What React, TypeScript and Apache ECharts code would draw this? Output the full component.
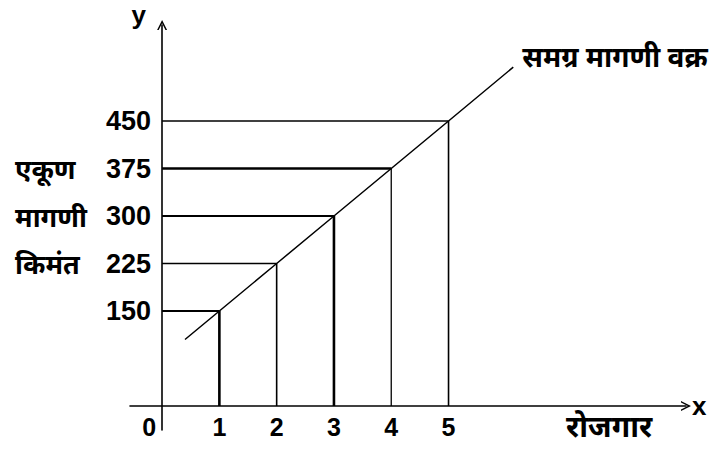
import React, { useEffect, useRef } from "react";
import * as echarts from "echarts";

// Data
const employment = [1, 2, 3, 4, 5];
const demandPrice = [150, 225, 300, 375, 450];
const curveStart = [0.4, 105];
const curveEnd = [6.13, 535];
const yTitles: Record<number, string> = { 375: "एकूण", 300: "मागणी", 225: "किमंत" };
const curveName = "समग्र मागणी वक्र";
const xTitle = "रोजगार";
const xAxisLetter = "x";
const yAxisLetter = "y";

// Axis extents (value units)
const X_MIN = -0.56;
const X_MAX = 9.145;
const Y_MIN = -37.9;
const Y_MAX = 601.6;

// Styles (not data)
const hWidths = [2, 1.3, 2, 2.4, 1.3];
const vWidths = [2.6, 1.6, 2.6, 1.3, 1.6];

const W = 716;
const H = 452;
const GRID = { left: 130, right: 30, top: 25, bottom: 22 };

const NUM_FONT = "'Liberation Sans', Arial, sans-serif";
const DEV_FONT = "'Noto Sans', 'Noto Sans Devanagari', 'Lohit Devanagari', sans-serif";
const ARROW = "path://M0,10 L5,0 L10,10 L8.4,10 L5,3.2 L1.6,10 Z";

export default function App() {
  const ref = useRef<HTMLDivElement>(null);
  useEffect(() => {
    if (!ref.current) return;
    const chart = echarts.init(ref.current, undefined, { renderer: "svg" });

    const gridW = W - GRID.left - GRID.right;
    const gridH = H - GRID.top - GRID.bottom;
    // place axis lines at the zero of the other axis
    const yAxisOffset = -((0 - X_MIN) / (X_MAX - X_MIN)) * gridW;
    const xAxisOffset = -((0 - Y_MIN) / (Y_MAX - Y_MIN)) * gridH;

    const guideSeries: any[] = [];
    employment.forEach((x, i) => {
      const v = demandPrice[i];
      guideSeries.push({
        type: "line",
        data: [[0, v], [x, v]],
        symbol: "none",
        silent: true,
        lineStyle: { color: "#000", width: hWidths[i] },
      });
      guideSeries.push({
        type: "line",
        data: [[x, 0], [x, v]],
        symbol: "none",
        silent: true,
        lineStyle: { color: "#000", width: vWidths[i] },
      });
    });

    const curveData: any[] = [
      curveStart,
      ...employment.map((x, i) => [x, demandPrice[i]]),
      curveEnd,
    ];

    chart.setOption({
      animation: false,
      grid: { ...GRID, outerBoundsMode: "none", containLabel: false },
      xAxis: {
        type: "value",
        min: X_MIN,
        max: X_MAX,
        offset: xAxisOffset,
        splitLine: { show: false },
        axisTick: { show: false },
        axisLine: {
          onZero: false,
          lineStyle: { color: "#000", width: 1.6 },
          symbol: ["none", ARROW],
          symbolSize: [11, 10],
        },
        axisLabel: {
          customValues: [0, ...employment],
          margin: 9,
          color: "#000",
          fontSize: 25,
          fontWeight: "bold",
          fontFamily: NUM_FONT,
          formatter: (v: number) => (v === 0 ? "{zero|0}" : String(v)),
          rich: {
            zero: {
              padding: [0, 26, 0, 0],
              color: "#000",
              fontSize: 25,
              fontWeight: "bold",
              fontFamily: NUM_FONT,
            },
          },
        },
        name: xAxisLetter,
        nameLocation: "end",
        nameGap: 6,
        nameTextStyle: {
          color: "#000",
          fontSize: 26,
          fontWeight: "bold",
          fontFamily: NUM_FONT,
        },
      },
      yAxis: {
        type: "value",
        min: Y_MIN,
        max: Y_MAX,
        offset: yAxisOffset,
        splitLine: { show: false },
        axisTick: { show: false },
        axisLine: {
          onZero: false,
          lineStyle: { color: "#000", width: 1.6 },
          symbol: ["none", ARROW],
          symbolSize: [11, 10],
        },
        axisLabel: {
          customValues: demandPrice,
          margin: 11,
          color: "#000",
          formatter: (v: number) =>
            yTitles[v] ? `{name|${yTitles[v]}}{num|${v}}` : `{num|${v}}`,
          rich: {
            name: {
              width: 91,
              align: "left",
              color: "#000",
              fontSize: 27,
              fontWeight: "bold",
              fontFamily: DEV_FONT,
            },
            num: {
              color: "#000",
              fontSize: 27,
              fontWeight: "bold",
              fontFamily: NUM_FONT,
            },
          },
        },
        name: yAxisLetter,
        nameLocation: "end",
        nameGap: -1,
        nameTextStyle: {
          align: "right",
          verticalAlign: "bottom",
          lineHeight: 22,
          padding: [0, 16, 0, 0],
          color: "#000",
          fontSize: 26,
          fontWeight: "bold",
          fontFamily: NUM_FONT,
        },
      },
      graphic: [
        {
          type: "text",
          left: 566,
          top: 410,
          silent: true,
          style: {
            text: xTitle,
            fill: "#000",
            fontSize: 30,
            fontWeight: "bold",
            fontFamily: DEV_FONT,
          },
        },
      ],
      series: [
        ...guideSeries,
        {
          type: "line",
          data: curveData,
          symbol: "none",
          silent: true,
          clip: false,
          lineStyle: { color: "#000", width: 1.5 },
          endLabel: {
            show: true,
            formatter: curveName,
            distance: 9,
            offset: [0, -11],
            color: "#000",
            fontSize: 28,
            fontWeight: "bold",
            fontFamily: DEV_FONT,
          },
        },
      ],
    });
    return () => chart.dispose();
  }, []);

  return (
    <div
      ref={ref}
      style={{ position: "absolute", left: 0, top: 0, width: W, height: H, background: "#fff" }}
    />
  );
}
